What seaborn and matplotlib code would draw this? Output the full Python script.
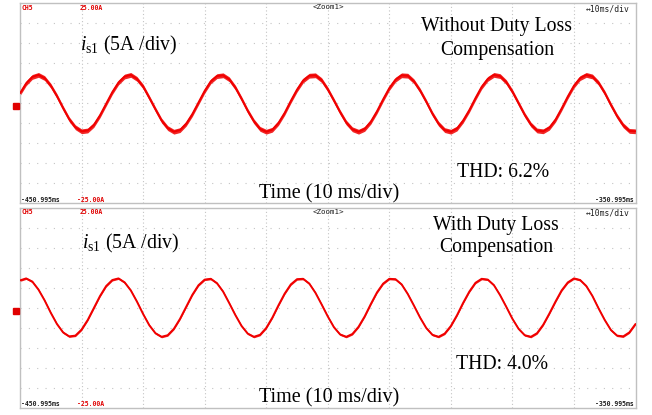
import numpy as np
import pandas as pd
import matplotlib
matplotlib.use("Agg")
import matplotlib.pyplot as plt
import seaborn as sns

# ---- scope capture: 100 ms zoom window, one sample per millisecond ----
T_START = -450.995          # ms, left edge of the window
T_END = -350.995            # ms, right edge of the window
t_ms = T_START + np.arange(101)

# phase current i_s1 [A] without duty loss compensation
i_s1_uncomp = [
    2.5, 5.0, 6.6, 7.1, 6.3, 4.4, 1.8, -1.2, -4.0, -6.0,
    -7.0, -6.8, -5.4, -3.0, -0.1, 2.8, 5.2, 6.7, 7.1, 6.1,
    4.2, 1.4, -1.5, -4.3, -6.2, -7.1, -6.7, -5.1, -2.7, 0.2,
    3.1, 5.5, 6.8, 7.0, 6.0, 3.9, 1.1, -1.9, -4.5, -6.4,
    -7.1, -6.6, -4.9, -2.4, 0.6, 3.4, 5.7, 6.9, 7.0, 5.8,
    3.5, 0.7, -2.2, -4.8, -6.5, -7.1, -6.4, -4.6, -2.0, 1.0,
    3.8, 5.9, 7.0, 6.9, 5.5, 3.2, 0.4, -2.6, -5.1, -6.7,
    -7.1, -6.3, -4.3, -1.7, 1.3, 4.1, 6.1, 7.1, 6.8, 5.3,
    2.9, 0.0, -2.9, -5.3, -6.8, -7.0, -6.1, -4.1, -1.3, 1.7,
    4.4, 6.3, 7.1, 6.7, 5.1, 2.6, -0.4, -3.2, -5.5, -6.9, -7.0,
]

# phase current i_s1 [A] with duty loss compensation
i_s1_comp = [
    6.8, 7.3, 6.5, 4.5, 1.8, -1.3, -4.1, -6.2, -7.2, -7.0,
    -5.5, -3.1, -0.1, 2.9, 5.4, 6.9, 7.3, 6.3, 4.3, 1.5,
    -1.6, -4.4, -6.4, -7.3, -6.9, -5.3, -2.8, 0.2, 3.2, 5.6,
    7.0, 7.2, 6.1, 4.0, 1.1, -1.9, -4.6, -6.5, -7.3, -6.8,
    -5.1, -2.5, 0.6, 3.5, 5.8, 7.1, 7.2, 6.0, 3.7, 0.8,
    -2.2, -4.9, -6.7, -7.3, -6.6, -4.8, -2.2, 0.9, 3.8, 6.0,
    7.2, 7.1, 5.8, 3.4, 0.5, -2.5, -5.1, -6.8, -7.3, -6.5,
    -4.6, -1.9, 1.2, 4.0, 6.2, 7.2, 7.0, 5.6, 3.1, 0.2,
    -2.8, -5.3, -6.9, -7.3, -6.4, -4.3, -1.5, 1.5, 4.3, 6.3,
    7.3, 6.9, 5.4, 2.9, -0.2, -3.1, -5.6, -7.0, -7.2, -6.2, -4.1,
]

# screen scale and annotations
Y_TOP, Y_BOTTOM = 25.0, -25.0           # A, full screen (5 A/div)
panel_titles = [("Without Duty Loss", "Compensation"),
                ("With Duty Loss", "Compensation")]
thd_labels = ["THD: 6.2%", "THD: 4.0%"]
current_label = r"$i_{\mathrm{s1}}$ (5A /div)"
time_label = "Time (10 ms/div)"
scope_channel = "CH5"
scope_zoom = "<Zoom1>"
scope_timebase = "\u219410ms/div"

# ---- style ----
sns.set_theme(style="white")
plt.rcParams["font.family"] = ["Liberation Serif", "DejaVu Serif"]
plt.rcParams["mathtext.fontset"] = "custom"
plt.rcParams["mathtext.rm"] = "Liberation Serif"
plt.rcParams["mathtext.it"] = "Liberation Serif:italic"

TRACE = "#f00000"
SCOPE_RED = "#e00000"
SCOPE_INK = "#1e1e1e"
GRID = "#c4c4c4"
FRAME = "#c0c0c0"

W, H = 652, 415
fig = plt.figure(figsize=(W / 100, H / 100), dpi=100)
fig.patch.set_facecolor("white")


def fx(x):
    return x / W


def fy(y):
    return 1 - y / H


PANEL_LEFT, PANEL_RIGHT = 20.0, 635.5
PANEL_H = 200.0
panel_tops = [3.3, 207.6]
series = [i_s1_uncomp, i_s1_comp]
ripple = [0.6, 0.25]                   # half-width of the trace band, A

mono = ["DejaVu Sans Mono", "DejaVu Sans"]

for k, (top, vals) in enumerate(zip(panel_tops, series)):
    ax = fig.add_axes([fx(PANEL_LEFT), fy(top + PANEL_H),
                       (PANEL_RIGHT - PANEL_LEFT) / W, PANEL_H / H])
    ax.set_facecolor("white")
    ax.set_xlim(T_START, T_END)
    ax.set_ylim(Y_BOTTOM, Y_TOP)

    # dotted graticule: 10 x 10 divisions
    for xv in T_START + np.arange(1, 10) * 10.0:
        ax.axvline(xv, color=GRID, lw=0.8, ls=(0, (1, 2.2)), zorder=0)
    for yv in np.arange(-20, 25, 5):
        ax.axhline(yv, color=GRID, lw=0.8, ls=(0, (1, 6.5)), zorder=0)

    vals = np.asarray(vals)
    ax.fill_between(t_ms, vals - ripple[k], vals + ripple[k],
                    color=TRACE, lw=0, alpha=0.85, zorder=2)
    sns.lineplot(x=t_ms, y=vals, ax=ax, color=TRACE, lw=1.4,
                 zorder=3, estimator=None, sort=False)

    ax.set_xticks([])
    ax.set_yticks([])
    ax.set_xlabel("")
    ax.set_ylabel("")
    for sp in ax.spines.values():
        sp.set_color(FRAME)
        sp.set_linewidth(1.0)

    # channel ground marker left of the screen
    ax.plot([-0.006], [-0.75], marker="s", ms=4.4, color=SCOPE_RED,
            transform=ax.get_yaxis_transform(), clip_on=False, zorder=5)

    # scope readouts
    fig.text(fx(21), fy(top + 6.2), scope_channel, color=SCOPE_RED,
             family=mono, fontsize=4.7, fontweight="bold", va="baseline")
    fig.text(fx(80), fy(top + 6.2), f"{Y_TOP:.2f}A", color=SCOPE_RED,
             family=mono, fontsize=4.7, fontweight="bold", va="baseline")
    fig.text(fx(328.5), fy(top + 6.0), scope_zoom, color=SCOPE_INK,
             family=mono, fontsize=5.4, ha="center", va="baseline")
    fig.text(fx(630), fy(top + 8.2), scope_timebase, color=SCOPE_INK,
             family=mono, fontsize=5.8, ha="right", va="baseline")
    fig.text(fx(21), fy(top + 198.8), f"{T_START:.3f}ms", color=SCOPE_INK,
             family=mono, fontsize=4.7, fontweight="bold", va="baseline")
    fig.text(fx(76.5), fy(top + 198.8), f"{Y_BOTTOM:.2f}A", color=SCOPE_RED,
             family=mono, fontsize=4.7, fontweight="bold", va="baseline")
    fig.text(fx(633.5), fy(top + 198.8), f"{T_END:.3f}ms", color=SCOPE_INK,
             family=mono, fontsize=4.7, fontweight="bold", ha="right",
             va="baseline")

# ---- figure annotations ----
serif = dict(color="black", fontsize=14.2, va="baseline")
fig.text(fx(80.5), fy(50.5), current_label, **serif)
fig.text(fx(82.5), fy(248.5), current_label, **serif)

fig.text(fx(496), fy(30.7), panel_titles[0][0], ha="center", **serif)
fig.text(fx(497), fy(55.0), panel_titles[0][1], ha="center", **serif)
fig.text(fx(495.5), fy(229.5), panel_titles[1][0], ha="center", **serif)
fig.text(fx(496), fy(251.7), panel_titles[1][1], ha="center", **serif)

fig.text(fx(457), fy(177.0), thd_labels[0], **serif)
fig.text(fx(456), fy(369.3), thd_labels[1], **serif)

fig.text(fx(329.5), fy(198.0), time_label, ha="center",
         **{**serif, "fontsize": 14.5})
fig.text(fx(329.5), fy(402.0), time_label, ha="center",
         **{**serif, "fontsize": 14.5})

fig.savefig("out.png", dpi=100, facecolor="white")
